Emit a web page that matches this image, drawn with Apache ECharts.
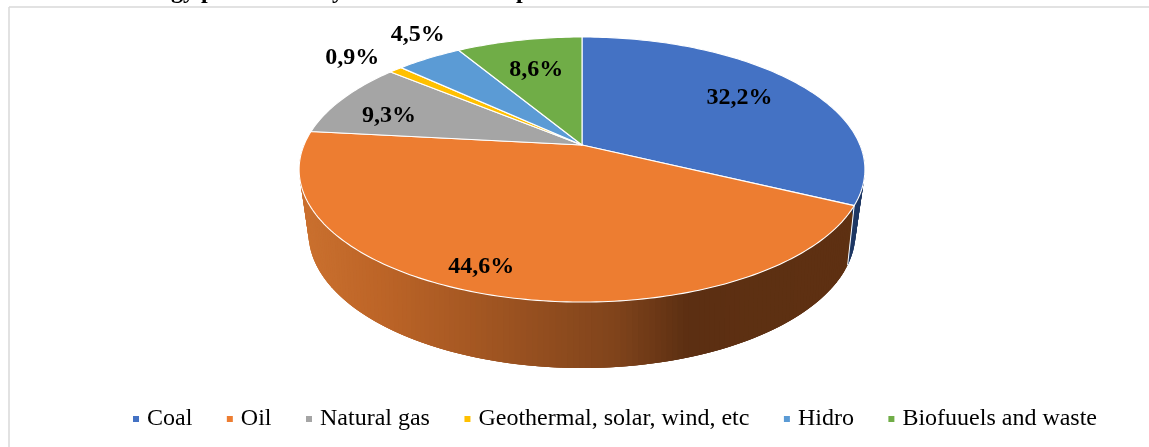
<!DOCTYPE html>
<html>
<head>
<meta charset="utf-8">
<style>html,body{margin:0;padding:0;background:#fff}#c{width:1149px;height:447px}</style>
<script src="https://cdn.jsdelivr.net/npm/echarts@6/dist/echarts.min.js"></script>
</head>
<body>
<div id="c"></div>
<script>
const categories = ['Coal', 'Oil', 'Natural gas', 'Geothermal, solar, wind, etc', 'Hidro', 'Biofuuels and waste'];
const shares = [32.2, 44.6, 9.3, 0.9, 4.5, 8.6];
const titleFragments = ['gy p', 'y', 'p'];

const faceColors = ['#4472C4', '#ED7D31', '#A5A5A5', '#FFC000', '#5B9BD5', '#70AD47'];
const labelRadius = [0.73, 0.858, 0.77, 1.237, 1.26, 0.70];
const labelTurn = [-1.6, 5.2, -4, -1.4, 4.9, 0];
const navyWall = '#1F3864';
const brownStops = [[300, [203, 113, 47]], [386, [188, 100, 39]], [621, [127, 67, 27]], [690, [92, 47, 18]], [900, [95, 49, 18]]];

const topPlane = { cx: 582, cy: 145, a: 278, b: 128, k: -0.185 };
const basePlane = { cx: 582, cy: 203.3, a: 266.8, b: 128.5, k: -0.22 };
const SERIF = '"Liberation Serif", "Times New Roman", serif';

const total = shares.reduce((s, v) => s + v, 0);
const bounds = [0];
shares.forEach((v, i) => bounds.push(bounds[i] + v / total * 360));

function project(plane, deg, r) {
  const t = deg * Math.PI / 180, rr = r === undefined ? 1 : r;
  const u = rr * Math.sin(t), v = -rr * Math.cos(t), d = 1 + plane.k * v;
  return [plane.cx + plane.a * u / d, plane.cy + plane.b * v / d];
}
function brownAt(x) {
  for (let i = 1; i < brownStops.length; i++) {
    const a = brownStops[i - 1], b = brownStops[i];
    if (x <= b[0]) {
      const f = Math.max(0, (x - a[0]) / (b[0] - a[0]));
      return 'rgb(' + a[1].map((c, j) => Math.round(c + (b[1][j] - c) * f)).join(',') + ')';
    }
  }
  return 'rgb(95,49,18)';
}
function renderSlice(params, api) {
  const i = params.seriesIndex;
  const from = bounds[i], to = from + api.value(0) / total * 360;
  const children = [];
  // side wall, only the part facing the viewer; each strip overlaps the next one to hide seams
  const wFrom = Math.max(from, 90), wTo = Math.min(to, 270);
  if (wTo > wFrom) {
    const step = 1, n = Math.ceil((wTo - wFrom) / step);
    for (let s = 0; s < n; s++) {
      const a = wFrom + (wTo - wFrom) * s / n;
      const b = Math.min(wTo, wFrom + (wTo - wFrom) * (s + 3) / n);
      const pts = [project(topPlane, a), project(topPlane, b), project(basePlane, b), project(basePlane, a)];
      const col = i === 0 ? navyWall : brownAt((pts[0][0] + pts[3][0]) / 2);
      children.push({ type: 'polygon', z2: 1 + s / n, shape: { points: pts }, style: { fill: col } });
    }
    if (to < 270) {
      const p = project(topPlane, to), q = project(basePlane, to);
      children.push({ type: 'line', z2: 2.5, shape: { x1: p[0], y1: p[1], x2: q[0], y2: q[1] }, style: { stroke: '#fff', lineWidth: 1 } });
    }
  }
  // top face
  const face = [project(topPlane, 0, 0)];
  const m = Math.max(2, Math.ceil(to - from));
  for (let s = 0; s <= m; s++) face.push(project(topPlane, from + (to - from) * s / m));
  children.push({ type: 'polygon', z2: 5, shape: { points: face }, style: { fill: faceColors[i], stroke: '#fff', lineWidth: 1.1, lineJoin: 'round' } });
  // value label
  const mid = (from + to) / 2 + labelTurn[i];
  const lp = project(topPlane, mid, labelRadius[i]);
  children.push({
    type: 'text', z2: 10, x: lp[0] + 0.5, y: lp[1] + 1.5,
    style: {
      text: api.value(0).toFixed(1).replace('.', ',') + '%',
      fill: '#000', font: 'bold 24px ' + SERIF, align: 'center', verticalAlign: 'middle'
    }
  });
  return { type: 'group', children };
}

const chart = echarts.init(document.getElementById('c'), null, { renderer: 'canvas' });
chart.setOption({
  animation: false,
  backgroundColor: '#fff',
  legend: {
    data: categories,
    left: 128, top: 402,
    icon: 'rect', itemWidth: 6, itemHeight: 6, itemGap: 34.5,
    textStyle: { fontFamily: SERIF, fontSize: 24, color: '#000', padding: [0, 0, 0, 3] }
  },
  graphic: [
    { type: 'line', silent: true, shape: { x1: 9, y1: 7, x2: 1149, y2: 7 }, style: { stroke: '#D9D9D9', lineWidth: 1.5 } },
    { type: 'line', silent: true, shape: { x1: 9, y1: 7, x2: 9, y2: 447 }, style: { stroke: '#D9D9D9', lineWidth: 1.5 } },
    { type: 'text', silent: true, x: 171, y: -20, style: { text: titleFragments[0], font: 'bold 24px ' + SERIF, fill: '#000' } },
    { type: 'text', silent: true, x: 332, y: -20, style: { text: titleFragments[1], font: 'bold 24px ' + SERIF, fill: '#000' } },
    { type: 'text', silent: true, x: 516, y: -20, style: { text: titleFragments[2], font: 'bold 24px ' + SERIF, fill: '#000' } }
  ],
  series: categories.map((name, i) => ({
    type: 'custom',
    name,
    coordinateSystem: 'none',
    itemStyle: { color: faceColors[i] },
    data: [[shares[i]]],
    renderItem: renderSlice
  }))
});
</script>
</body>
</html>
